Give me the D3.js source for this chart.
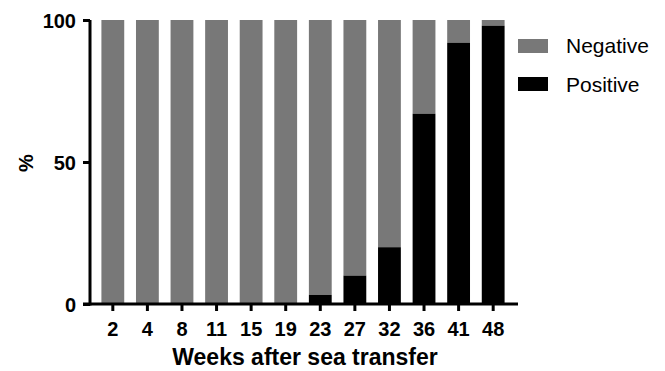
<!DOCTYPE html>
<html><head><meta charset="utf-8">
<script src="https://cdn.jsdelivr.net/npm/d3@7"></script>
<style>body{margin:0;background:#fff}svg{display:block}text{font-family:"Liberation Sans",Arial,sans-serif}</style>
</head><body><svg id="c" width="665" height="371"></svg>
<script>
const weeks = ["2","4","8","11","15","19","23","27","32","36","41","48"];
const positive = [0,0,0,0,0,0,3.2,10,20,67,92,98];
const negative = positive.map(p => 100 - p);
const yTicks = [0,50,100];
const seriesNames = ["Negative","Positive"];
const colors = {Negative:"#787878", Positive:"#000000"};

const svg = d3.select("#c");
const x = d3.scaleBand().domain(weeks).range([90,516]).paddingInner(0.34).paddingOuter(0.33);
const y = d3.scaleLinear().domain([0,100]).range([304,20]);

// bars
const g = svg.append("g");
weeks.forEach((w,i) => {
  g.append("rect").attr("x", x(w)).attr("width", x.bandwidth())
    .attr("y", y(100)).attr("height", y(positive[i]) - y(100)).attr("fill", colors.Negative);
  g.append("rect").attr("x", x(w)).attr("width", x.bandwidth())
    .attr("y", y(positive[i])).attr("height", y(0) - y(positive[i])).attr("fill", colors.Positive);
});

// y axis
const ya = svg.append("g").attr("transform","translate(90,0)")
  .call(d3.axisLeft(y).tickValues(yTicks).tickSize(7).tickPadding(7).tickFormat(d3.format("d")));
ya.select(".domain").attr("stroke","#000").attr("stroke-width",3).attr("d","M0,20V305.5");
ya.selectAll(".tick line").attr("stroke","#000").attr("stroke-width",3);
ya.selectAll(".tick text").attr("font-size",20).attr("font-weight","bold").attr("fill","#000").attr("dy","0.35em");

// x axis
const xa = svg.append("g").attr("transform","translate(0,304)")
  .call(d3.axisBottom(x).tickSize(7).tickPadding(11));
xa.select(".domain").attr("stroke","#000").attr("stroke-width",3).attr("d","M83,0H518");
xa.selectAll(".tick line").attr("stroke","#000").attr("stroke-width",3);
xa.selectAll(".tick text").attr("font-size",20).attr("font-weight","bold").attr("fill","#000");

// axis titles
svg.append("text").attr("x",305).attr("y",365).attr("text-anchor","middle")
  .attr("font-size",23).attr("font-weight","bold").text("Weeks after sea transfer");
svg.append("text").attr("transform","translate(33,163) rotate(-90)").attr("text-anchor","middle")
  .attr("font-size",20).attr("font-weight","bold").text("%");

// legend
const leg = svg.append("g");
seriesNames.forEach((s,i) => {
  leg.append("rect").attr("x",518).attr("y",39 + i*38).attr("width",30).attr("height",14).attr("fill",colors[s]);
  leg.append("text").attr("x",566).attr("y",53 + i*38.5).attr("font-size",21).attr("fill","#000").text(s);
});
</script></body></html>
